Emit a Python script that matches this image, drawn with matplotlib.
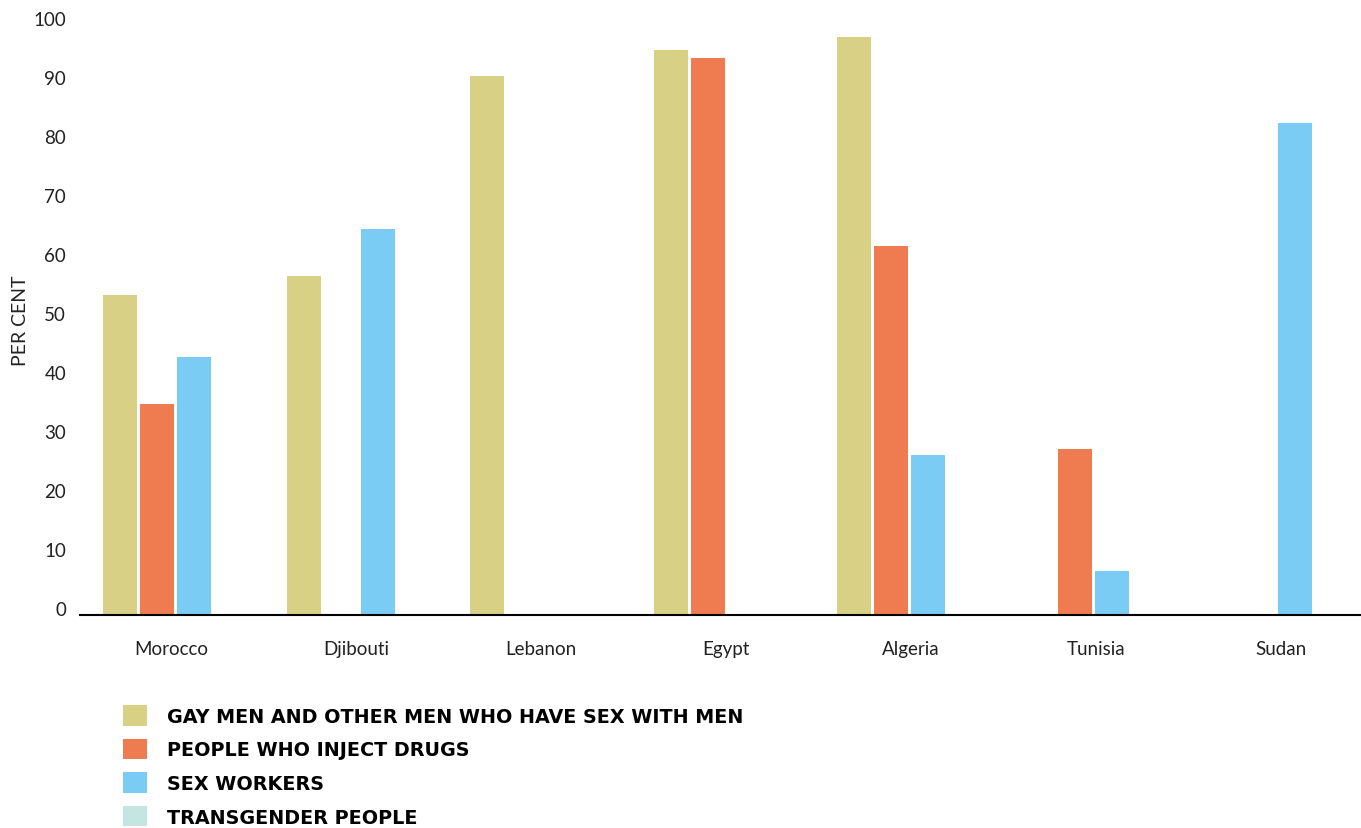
import numpy as np
import matplotlib.pyplot as plt
from matplotlib.patches import Patch

countries = ['Morocco', 'Djibouti', 'Lebanon', 'Egypt', 'Algeria', 'Tunisia', 'Sudan']
series_names = ['GAY MEN AND OTHER MEN WHO HAVE SEX WITH MEN',
                'PEOPLE WHO INJECT DRUGS',
                'SEX WORKERS',
                'TRANSGENDER PEOPLE']
msm = [54.2, 57.4, 91.3, 95.8, 98.0, 0, 0]
pwid = [35.7, 0, 0, 94.4, 62.5, 28.2, 0]
sex_workers = [43.8, 65.5, 0, 0, 27.2, 7.5, 83.4]
transgender = [0, 0, 0, 0, 0, 0, 0]
yticks = [0, 10, 20, 30, 40, 50, 60, 70, 80, 90, 100]

colors = ['#d8d084', '#ee7c50', '#7accf4', '#c5e5e3']

plt.rcParams['font.family'] = ['Lato', 'DejaVu Sans']

fig = plt.figure(figsize=(13.61, 8.29), dpi=100)
ax = fig.add_axes([80/1361, 1-616/829, 1281/1361, 590/829])

x = np.arange(len(countries))
width = 0.186
for k, vals in enumerate([msm, pwid, sex_workers, transgender]):
    ax.bar(x + (k - 1.5)*0.2016 + 0.025, vals, width, color=colors[k], label=series_names[k])

# ~183.5 px per group, Morocco centred at x=171 px
gp = 183.5
ax.set_xlim(-91/gp, 1190/gp)
ax.set_ylim(0, 100)
ax.set_yticks(yticks)
ax.set_yticklabels([str(v) for v in yticks], fontsize=13.5, color='#222222')
for lab in ax.get_yticklabels():
    lab.set_verticalalignment('baseline')
ax.tick_params(axis='y', length=0, pad=10)
# labels in the original sit on a slightly wider pitch than the bar groups
ax.set_xticks(x * 185/gp)
ax.set_xticklabels(countries, fontsize=13.5, color='#222222')
ax.tick_params(axis='x', length=0, pad=18)

for s in ['top', 'right', 'left']:
    ax.spines[s].set_visible(False)
ax.spines['bottom'].set_linewidth(1.5)
ax.spines['bottom'].set_color('black')

ax.set_ylabel('PER CENT', fontsize=14, color='#222222')
ax.yaxis.set_label_coords(-0.04, 0.5)

handles = [Patch(facecolor=c, edgecolor='none') for c in colors]
fig.legend(handles, series_names, loc='upper left', bbox_to_anchor=(106/1361, 1-689/829),
           frameon=False, prop={'family': 'DejaVu Sans', 'weight': 'bold', 'size': 13.8},
           handlelength=1.25, handleheight=1.25, handletextpad=1.05, labelspacing=0.68)

fig.savefig('out.png', dpi=100)
